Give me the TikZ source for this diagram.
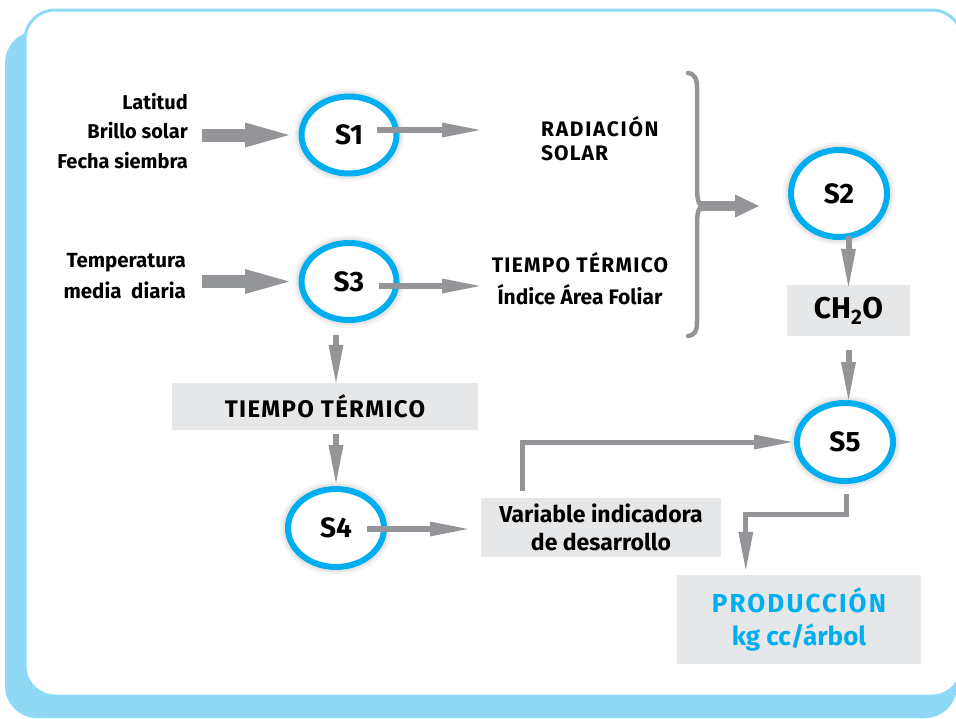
\documentclass[tikz,border=0pt]{standalone}
\usepackage{fontspec}
\setmainfont{Fira Sans}
\usetikzlibrary{arrows.meta,shapes.geometric,calc}
\definecolor{frameblue}{HTML}{8FD9F6}
\definecolor{scyan}{HTML}{00AEEF}
\definecolor{agray}{HTML}{939598}
\definecolor{boxgray}{HTML}{E6E7E8}
\newcommand{\spacedcaps}[2]{{\addfontfeature{LetterSpace=#1}#2}}
\tikzset{
  sbox/.style={ellipse, draw=scyan, line width=6pt, fill=white, minimum width=95pt, minimum height=77pt, inner sep=0pt,
    font=\fontsize{28}{32}\selectfont\bfseries,
    preaction={draw=black, line width=16pt, opacity=0.04},
    preaction={draw=black, line width=11pt, opacity=0.06}},
  lbl/.style={inner sep=0pt, font=\fontsize{20}{29.5}\selectfont\bfseries},
  gbox/.style={fill=boxgray, inner sep=0pt, font=\fontsize{23}{28}\selectfont\bfseries},
  bigarrow/.style={draw=agray, line width=13pt, -{Triangle[length=44pt,width=25pt,line width=0pt]}},
  medarrow/.style={draw=agray, line width=6pt, -{Triangle[length=38pt,width=15pt,line width=0pt]}},
  elbowarrow/.style={draw=agray, line width=5pt, -{Triangle[length=38pt,width=15pt,line width=0pt]}},
  bracearrow/.style={draw=agray, line width=10pt, -{Triangle[length=24pt,width=23pt,line width=0pt]}},
}
\begin{document}
\begin{tikzpicture}[x=1pt,y=-1pt]
\useasboundingbox (0,0) rectangle (956,718);
% frame
\fill[frameblue, rounded corners=32pt] (5,31) rectangle (957,718);
\filldraw[fill=white, draw=frameblue, line width=3pt, rounded corners=30pt] (25,10) rectangle (962,696);

% text labels
\node[lbl, anchor=east, align=right] (in1) at (188,131) {Latitud\\Brillo solar\\Fecha siembra};
\node[lbl, anchor=east, align=right, font=\fontsize{20.5}{31}\selectfont\bfseries] (in3) at (186,276.5) {Temperatura\\media\ \ diaria};
\node[lbl, anchor=west, align=left, font=\fontsize{21}{24}\selectfont\bfseries] (rad) at (541,139) {\spacedcaps{8}{RADIACIÓN}\\\spacedcaps{5}{SOLAR}};
\node[lbl, align=center, font=\fontsize{21}{32}\selectfont\bfseries] (tt1) at (580,279) {\spacedcaps{6}{TIEMPO TÉRMICO}\\Índice Área Foliar};

% ellipses
\node[sbox] (s1) at (349,135) {S1};
\node[sbox] (s3) at (349,281.5) {S3};
\node[sbox, minimum width=96pt, minimum height=87pt] (s2) at (839,193.5) {S2};
\node[sbox, minimum width=96pt, minimum height=78pt] (s5) at (845,442) {S5};
\node[sbox, minimum width=96pt, minimum height=78pt] (s4) at (336,528) {S4};

% boxes
\node[gbox, minimum width=306pt, minimum height=47pt, font=\fontsize{24}{28}\selectfont\bfseries] (tt) at (325,406.5) {\spacedcaps{5.5}{TIEMPO TÉRMICO}};
\node[gbox, minimum width=123pt, minimum height=51pt, font=\fontsize{30}{32}\selectfont\bfseries] (ch) at (848.5,310.5) {CH\textsubscript{2}O};
\node[gbox, minimum width=240pt, minimum height=59pt, align=center] (var) at (601,527.5) {Variable indicadora\\de desarrollo};
\node[gbox, minimum width=244pt, minimum height=89pt, align=center, text=scyan, font=\fontsize{26}{33}\selectfont\bfseries] (prod) at (799,619.5) {\spacedcaps{8}{PRODUCCIÓN}\\kg cc/árbol};

% brace
\draw[agray, line width=4.5pt, line cap=round] (688,73) .. controls (695,74) and (697,79) .. (697,88) -- (697,186)
  .. controls (697,198) and (698,205) .. (703,206) .. controls (698,207) and (697,214) .. (697,226) -- (697,322)
  .. controls (697,331) and (695,335) .. (688,336);
\coordinate (bt) at (701,206);

% arrows
\draw[bigarrow, shorten <=14pt, shorten >=9.5pt] (in1.east |- s1.west) -- (s1.west);
\draw[bigarrow, shorten <=16pt, shorten >=9.5pt] (in3.east |- s3.west) -- (s3.west);
\draw[medarrow, shorten >=61pt] ($(s1.center)+(28,-5)$) -- ($(s1.center -| rad.west)+(0,-5)$);
\draw[medarrow] ($(s3.center)+(30,4.5)$) -- ($(s3.center -| tt1.center)+(-100,4.5)$);
\draw[bracearrow, shorten >=29pt] (bt) -- (bt -| s2.west);
\draw[medarrow, shorten <=12pt] (s3.south -| s4.north) -- (tt.north -| s4.north);
\draw[medarrow, shorten <=4pt, shorten >=3pt] (tt.south -| s4.north) -- (s4.north);
\draw[medarrow, shorten <=-4pt, shorten >=-2pt] (s2.south -| ch.north) -- (ch.north);
\draw[medarrow, shorten <=14pt] (ch.south) -- (ch.south |- s5.north);
\draw[medarrow, shorten >=13pt] ($(s4.center)+(31,1)$) -- ($(s4.center -| var.west)+(0,1)$);
\draw[elbowarrow, shorten >=2pt] ($(var.north west)+(42,-7)$) |- (s5.west);
\draw[elbowarrow] ($(s5.south)+(1,10)$) -- ++(0,20) -| ($(prod.north west)+(69,-5)$);
\end{tikzpicture}
\end{document}
